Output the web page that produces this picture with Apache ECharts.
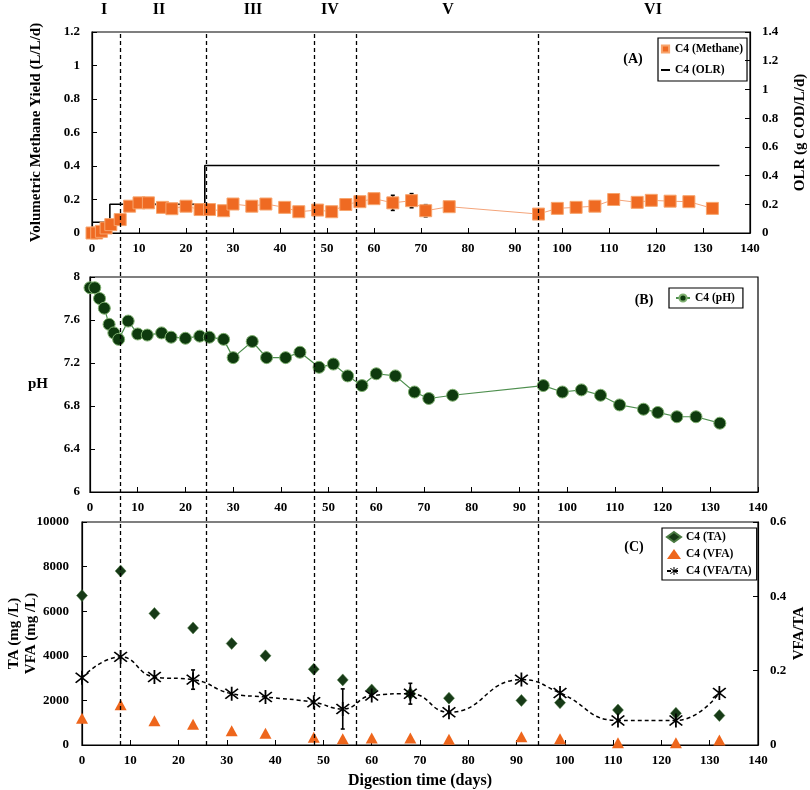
<!DOCTYPE html>
<html><head><meta charset="utf-8">
<script src="https://cdn.jsdelivr.net/npm/echarts@6/dist/echarts.min.js"></script>
<style>html,body{margin:0;padding:0;background:#fff}#c{width:810px;height:790px}</style>
</head><body><div id="c"></div>
<script>
// ---- Panel A: methane yield and OLR ----
const methaneDays = [0,1,2,3,4,6,8,10,12,15,17,20,23,25,28,30,34,37,41,44,48,51,54,57,60,64,68,71,76,95,99,103,107,111,116,119,123,127,132];
const methane = [0,0,0.01,0.03,0.05,0.08,0.16,0.18,0.18,0.153,0.145,0.16,0.14,0.14,0.133,0.173,0.16,0.173,0.153,0.127,0.137,0.127,0.17,0.187,0.205,0.18,0.193,0.133,0.157,0.113,0.147,0.153,0.16,0.20,0.183,0.195,0.19,0.187,0.147];
const methaneErrDays = [54,64,68,71];
const methaneErr = [0.03,0.045,0.042,0.036];
const olrDays = [0,3.8,3.8,24,24,133.5];
const olr = [0.075,0.075,0.2,0.2,0.47,0.47];
// ---- Panel B: pH ----
const phDays = [0,1,2,3,4,5,6,8,10,12,15,17,20,23,25,28,30,34,37,41,44,48,51,54,57,60,64,68,71,76,95,99,103,107,111,116,119,123,127,132];
const ph = [7.9,7.9,7.8,7.71,7.56,7.48,7.42,7.59,7.47,7.46,7.48,7.44,7.43,7.45,7.44,7.42,7.25,7.40,7.25,7.25,7.30,7.16,7.19,7.08,6.99,7.10,7.08,6.93,6.87,6.90,6.99,6.93,6.95,6.90,6.81,6.77,6.74,6.70,6.70,6.64];
// ---- Panel C: TA, VFA, VFA/TA ----
const cDays = [0,8,15,23,31,38,48,54,60,68,76,91,99,111,123,132];
const ta = [6700,7800,5900,5250,4550,4000,3400,2920,2470,2300,2100,2000,1900,1570,1420,1320];
const vfa = [1200,1800,1090,930,640,525,345,285,315,315,255,375,285,100,100,225];
const ratio = [0.181,0.237,0.183,0.176,0.138,0.129,0.115,0.097,0.133,0.138,0.088,0.176,0.140,0.066,0.066,0.140];
const ratioErrDays = [23,54,68];
const ratioErr = [0.026,0.054,0.028];
// ---- Phases ----
const phaseBoundaries = [6, 24.3, 47.3, 56.2, 94.9];
const phaseNames = ['I','II','III','IV','V','VI'];

const FONT = 'Liberation Serif';
const zip = (a,b) => a.map((v,i)=>[v,b[i]]);
const errData = (days, xs, ys, errs) => days.map((d,i)=>[d, ys[xs.indexOf(d)], errs[i]]);

const asterisk = 'path://M-0.5,-5L0.5,-5L0.5,5L-0.5,5Z M-3.89,-3.18L-3.18,-3.89L3.89,3.18L3.18,3.89Z M-3.18,3.89L-3.89,3.18L3.18,-3.89L3.89,-3.18Z';

function errRender(params, api){
  const x = api.value(0), y = api.value(1), e = api.value(2);
  const t = api.coord([x, y+e]), b = api.coord([x, y-e]);
  const st = {stroke:'#000', lineWidth:1.6};
  return {type:'group', children:[
    {type:'line', shape:{x1:t[0],y1:t[1],x2:b[0],y2:b[1]}, style:st},
    {type:'line', shape:{x1:t[0]-2,y1:t[1],x2:t[0]+2,y2:t[1]}, style:st},
    {type:'line', shape:{x1:b[0]-2,y1:b[1],x2:b[0]+2,y2:b[1]}, style:st}
  ]};
}

const axisLbl = {fontFamily:FONT, fontWeight:'bold', fontSize:13, color:'#000'};
const nameSt = {fontFamily:FONT, fontWeight:'bold', fontSize:15, color:'#000'};
const axLine = {show:true, lineStyle:{color:'#000', width:1.2}};
const tick = {show:true, inside:true, length:5, lineStyle:{color:'#000'}};
const fmt1 = v => String(+v.toFixed(1));

function xAx(grid, show, extra){
  return Object.assign({type:'value', gridIndex:grid, min:0, max:140, interval:10,
    axisLine:axLine, axisTick:tick, splitLine:{show:false},
    axisLabel:Object.assign({show:show, margin:9}, axisLbl)}, extra||{});
}
function yAx(o){
  return Object.assign({type:'value', axisLine:axLine, axisTick:tick, splitLine:{show:false},
    nameLocation:'middle', nameMoveOverlap:false, nameRotate:90, nameTextStyle:nameSt}, o);
}

const legendText = {fontFamily:FONT, fontWeight:'bold', fontSize:11.5, color:'#000'};
const gridBase = {show:true, borderColor:'#000', borderWidth:1.2, outerBoundsMode:'none', containLabel:false};

const option = {
  animation:false,
  backgroundColor:'#fff',
  grid:[
    Object.assign({left:92, top:32, width:658, height:201}, gridBase),
    Object.assign({left:90, top:277, width:668, height:215}, gridBase),
    Object.assign({left:82, top:522, width:676, height:223}, gridBase),
    {left:92, top:32, width:658, height:713, show:false, outerBoundsMode:'none', containLabel:false}
  ],
  xAxis:[
    xAx(0,true),
    xAx(1,true),
    xAx(2,true,{name:'Digestion time (days)', nameLocation:'middle', nameGap:28, nameMoveOverlap:false,
      nameTextStyle:Object.assign({}, nameSt, {fontSize:16})}),
    {type:'value', gridIndex:3, min:0, max:140, show:false}
  ],
  yAxis:[
    yAx({gridIndex:0, min:0, max:1.2, interval:0.2,
      axisLabel:Object.assign({margin:12, formatter:fmt1}, axisLbl),
      name:'Volumetric Methane Yield (L/L/d)', nameGap:48}),
    yAx({gridIndex:0, position:'right', min:0, max:1.4, interval:0.2,
      axisLabel:Object.assign({margin:12, formatter:fmt1}, axisLbl),
      name:'OLR (g COD/L/d)', nameGap:43}),
    yAx({gridIndex:1, min:6, max:8, interval:0.4,
      axisLabel:Object.assign({margin:10, formatter:fmt1}, axisLbl),
      name:'pH', nameGap:42, nameRotate:0}),
    yAx({gridIndex:2, min:0, max:10000, interval:2000,
      axisLabel:Object.assign({margin:13, formatter:v=>String(v)}, axisLbl),
      name:'TA (mg /L)\nVFA (mg /L)', nameGap:42, nameTextStyle:Object.assign({lineHeight:17}, nameSt)}),
    yAx({gridIndex:2, position:'right', min:0, max:0.6, interval:0.2,
      axisLabel:Object.assign({margin:12, formatter:fmt1}, axisLbl),
      name:'VFA/TA', nameGap:34}),
    {type:'value', gridIndex:3, min:0, max:1, show:false}
  ],
  legend:[
    {data:[{name:'C4 (Methane)'},{name:'C4 (OLR)', itemStyle:{color:'rgba(0,0,0,0)', borderWidth:0, opacity:0}}],
      orient:'vertical', left:658, top:38, padding:[5,4,5,2], itemGap:9,
      itemWidth:9, itemHeight:9, borderColor:'#000', borderWidth:1.2, textStyle:legendText, selectedMode:false},
    {data:['C4 (pH)'], orient:'vertical', left:669, top:288, padding:[4,8,4,6], itemWidth:14, itemHeight:9,
      borderColor:'#000', borderWidth:1.2, textStyle:legendText, selectedMode:false},
    {data:['C4 (TA)','C4 (VFA)','C4 (VFA/TA)'], orient:'vertical', left:662, top:528, padding:[3,5,3,4], itemGap:5,
      itemWidth:14, itemHeight:10, borderColor:'#000', borderWidth:1.2, textStyle:legendText, selectedMode:false}
  ],
  series:[
    {name:'C4 (OLR)', type:'line', xAxisIndex:0, yAxisIndex:1, data:zip(olrDays, olr), showSymbol:false, symbol:'none',
      lineStyle:{color:'#000', width:1.6}, itemStyle:{color:'#000'}, z:3},
    {name:'methaneErr', type:'custom', xAxisIndex:0, yAxisIndex:0, renderItem:errRender,
      data:errData(methaneErrDays, methaneDays, methane, methaneErr), z:2, silent:true},
    {name:'C4 (Methane)', type:'line', xAxisIndex:0, yAxisIndex:0, data:zip(methaneDays, methane),
      symbol:'rect', symbolSize:12, lineStyle:{color:'#F4A47A', width:1},
      itemStyle:{color:'#EF6A22', borderColor:'#F7A56E', borderWidth:1}, z:4},
    {name:'C4 (pH)', type:'line', xAxisIndex:1, yAxisIndex:2, data:zip(phDays, ph),
      symbol:'circle', symbolSize:12, lineStyle:{color:'#4E8F4E', width:1.2},
      itemStyle:{color:'#0E3A0E', borderColor:'#7FB070', borderWidth:1}, z:4},
    {name:'C4 (TA)', type:'scatter', xAxisIndex:2, yAxisIndex:3, data:zip(cDays, ta),
      symbol:'diamond', symbolSize:[11,12], itemStyle:{color:'#173A17', borderColor:'#4A7A42', borderWidth:0.5, opacity:1}, z:4},
    {name:'C4 (VFA)', type:'scatter', xAxisIndex:2, yAxisIndex:3, data:zip(cDays, vfa),
      symbol:'triangle', symbolSize:[12,11], itemStyle:{color:'#EE661C', opacity:1}, z:4},
    {name:'ratioErr', type:'custom', xAxisIndex:2, yAxisIndex:4, renderItem:errRender,
      data:errData(ratioErrDays, cDays, ratio, ratioErr), z:5, silent:true},
    {name:'C4 (VFA/TA)', type:'line', xAxisIndex:2, yAxisIndex:4, data:zip(cDays, ratio), smooth:0.5,
      symbol:asterisk, symbolSize:14, lineStyle:{color:'#000', width:1.5, type:[4,3]},
      itemStyle:{color:'#000', borderWidth:0}, z:6},
    {name:'phases', type:'line', xAxisIndex:3, yAxisIndex:5, data:[], silent:true,
      markLine:{silent:true, symbol:'none', label:{show:false}, animation:false,
        lineStyle:{color:'#000', width:1.3, type:[4,3]},
        data:phaseBoundaries.map(d=>({xAxis:d}))}, z:7}
  ],
  graphic:[]
};

const phaseLabelX = [104,159,253,330,448,653];
phaseNames.forEach((n,i)=>option.graphic.push({type:'text', x:phaseLabelX[i], y:10,
  style:{text:n, font:'bold 16px "Liberation Serif"', fill:'#000', textAlign:'center', textVerticalAlign:'middle'}}));
[['(A)',633,59],['(B)',644,300],['(C)',634,547]].forEach(p=>option.graphic.push({type:'text', x:p[1], y:p[2],
  style:{text:p[0], font:'bold 14px "Liberation Serif"', fill:'#000', textAlign:'center', textVerticalAlign:'middle'}}));

const chart = echarts.init(document.getElementById('c'), null, {renderer:'canvas'});
chart.setOption(option);
</script></body></html>
